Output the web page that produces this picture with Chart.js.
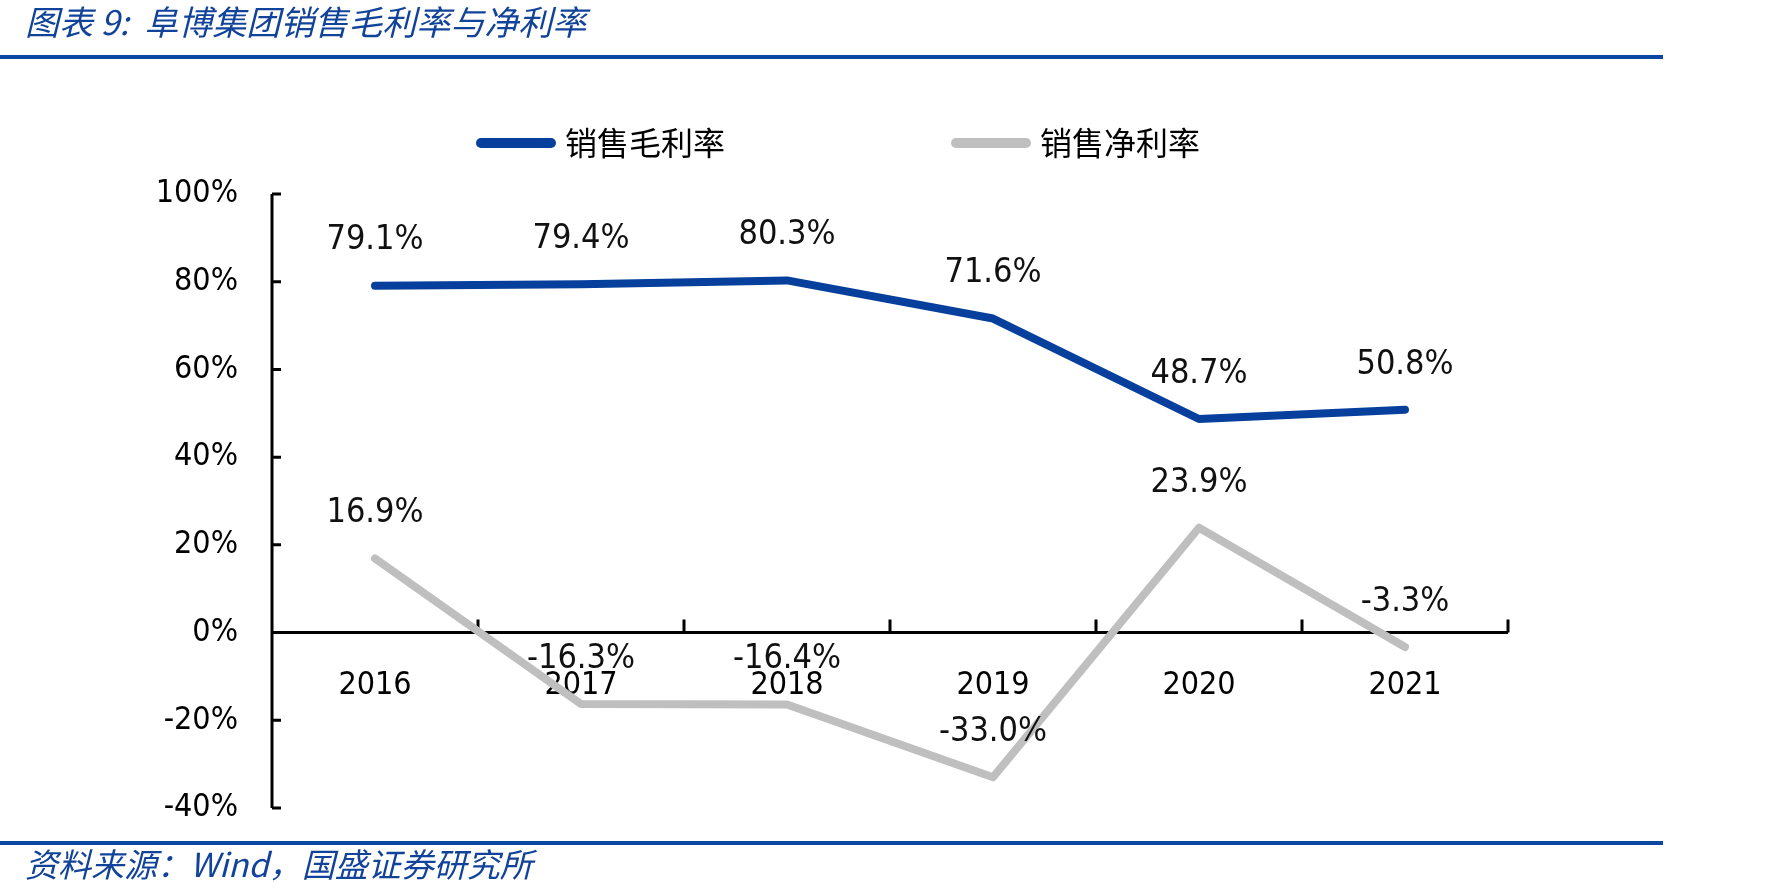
<!DOCTYPE html>
<html>
<head>
<meta charset="utf-8">
<script src="https://cdn.jsdelivr.net/npm/chart.js@4.4.0/dist/chart.umd.min.js"></script>
<style>
  html, body { margin: 0; padding: 0; background: #fff; }
  #wrap { position: relative; width: 1784px; height: 896px; overflow: hidden; }
  #chart { position: absolute; left: 0; top: 0; }
  .title { position: absolute; left: 25px; top: -4px; font: italic 34px 'Noto Sans CJK SC', sans-serif; color: #12439a; white-space: nowrap; }
  .rule { position: absolute; left: 0; width: 1663px; height: 4px; background: #0c46a3; }
  .src { position: absolute; left: 25px; top: 839px; font: italic 33px 'Noto Sans CJK SC', sans-serif; color: #12439a; white-space: nowrap; }
</style>
</head>
<body>
<div id="wrap">
  <canvas id="chart" width="1784" height="896"></canvas>
  <div class="title">图表 9:&nbsp;&nbsp;阜博集团销售毛利率与净利率</div>
  <div class="rule" style="top:55px"></div>
  <div class="rule" style="top:841px"></div>
  <div class="src">资料来源：Wind，国盛证券研究所</div>
</div>
<script>
const years = ['2016', '2017', '2018', '2019', '2020', '2021'];
const grossMargin = [79.1, 79.4, 80.3, 71.6, 48.7, 50.8];
const netMargin = [16.9, -16.3, -16.4, -33.0, 23.9, -3.3];
const seriesNames = ['销售毛利率', '销售净利率'];
const yTicks = [-40, -20, 0, 20, 40, 60, 80, 100];

const numFont = "'DejaVu Sans Condensed', 'DejaVu Sans', sans-serif";
const cjkFont = "'Noto Sans CJK SC', sans-serif";

// axes with inward tick marks, drawn under the lines
const axesPlugin = {
  id: 'axes',
  beforeDatasetsDraw(chart) {
    const { ctx, scales: { x, y } } = chart;
    const y0 = y.getPixelForValue(0);
    const top = y.getPixelForValue(yTicks[yTicks.length - 1]);
    const bottom = y.getPixelForValue(yTicks[0]);
    ctx.save();
    ctx.strokeStyle = '#000';
    ctx.lineWidth = 3;
    ctx.beginPath();
    ctx.moveTo(x.left, top);
    ctx.lineTo(x.left, bottom);
    yTicks.forEach(v => {
      const py = y.getPixelForValue(v);
      ctx.moveTo(x.left, py);
      ctx.lineTo(x.left + 9, py);
    });
    ctx.moveTo(x.left, y0);
    ctx.lineTo(x.right, y0);
    const step = (x.right - x.left) / years.length;
    for (let i = 1; i <= years.length; i++) {
      const px = x.left + i * step;
      ctx.moveTo(px, y0);
      ctx.lineTo(px, y0 - 13);
    }
    ctx.stroke();
    ctx.restore();
  },
  afterDatasetsDraw(chart) {
    const { ctx } = chart;
    ctx.save();
    ctx.font = '34px ' + numFont;
    ctx.fillStyle = '#111';
    ctx.textAlign = 'center';
    ctx.textBaseline = 'middle';
    chart.data.datasets.forEach((ds, di) => {
      chart.getDatasetMeta(di).data.forEach((pt, i) => {
        ctx.fillText(ds.data[i].toFixed(1) + '%', pt.x, pt.y - 45);
      });
    });
    // legend
    ctx.font = '32px ' + cjkFont;
    ctx.textAlign = 'left';
    ctx.fillStyle = '#000';
    const ly = 143;
    const starts = [476, 951];
    chart.data.datasets.forEach((ds, di) => {
      const sx = starts[di];
      ctx.strokeStyle = ds.borderColor;
      ctx.lineWidth = 10;
      ctx.lineCap = 'round';
      ctx.beginPath();
      ctx.moveTo(sx + 5, ly);
      ctx.lineTo(sx + 75, ly);
      ctx.stroke();
      ctx.fillText(ds.label, sx + 89, ly);
    });
    ctx.restore();
  }
};

new Chart(document.getElementById('chart'), {
  type: 'line',
  data: {
    labels: years,
    datasets: [
      { label: seriesNames[0], data: grossMargin, borderColor: '#06409c', backgroundColor: '#06409c' },
      { label: seriesNames[1], data: netMargin, borderColor: '#bfbfbf', backgroundColor: '#bfbfbf' }
    ]
  },
  options: {
    responsive: false,
    devicePixelRatio: 1,
    animation: false,
    layout: { padding: { top: 194, bottom: 88, left: 20, right: 276 } },
    elements: {
      line: { borderWidth: 8, tension: 0, borderCapStyle: 'round', borderJoinStyle: 'round' },
      point: { radius: 0, hoverRadius: 0 }
    },
    scales: {
      x: {
        type: 'category',
        position: { y: 0 },
        offset: true,
        grid: { display: false },
        border: { display: false },
        ticks: { color: '#000', font: { family: numFont, size: 32 }, padding: 26, maxRotation: 0 }
      },
      y: {
        min: -40,
        max: 100,
        afterFit(s) { s.width = 252; },
        afterBuildTicks(s) { s.ticks = yTicks.map(v => ({ value: v })); },
        grid: { display: false },
        border: { display: false },
        ticks: { color: '#000', font: { family: numFont, size: 32 }, padding: 26, callback: v => v + '%' }
      }
    },
    plugins: {
      legend: { display: false },
      tooltip: { enabled: false }
    }
  },
  plugins: [axesPlugin]
});
</script>
</body>
</html>
